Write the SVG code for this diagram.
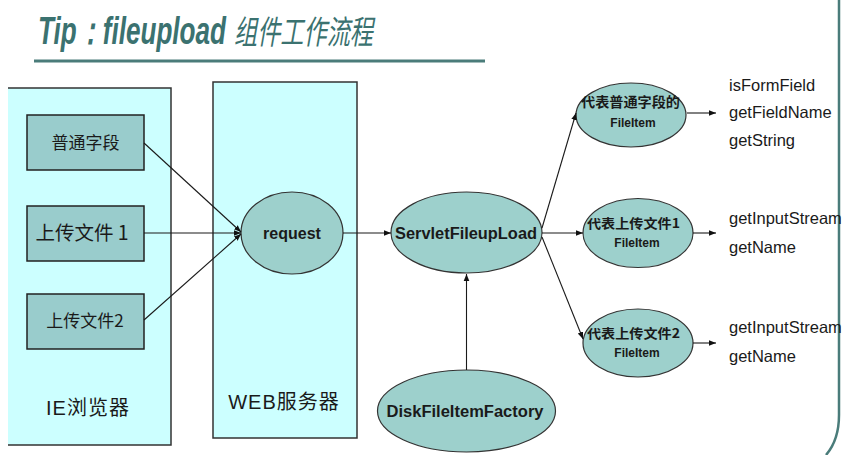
<svg xmlns="http://www.w3.org/2000/svg" width="848" height="455" viewBox="0 0 848 455">
<style>
.panel{fill:#ccffff;stroke:none}
.pborder{fill:none;stroke:#333;stroke-width:1.5}
.box{fill:#99cccc;stroke:#222;stroke-width:1.5}
.ell{fill:#9dd0cc;stroke:#333;stroke-width:1.2}
.cjk{font-family:"Noto Sans CJK SC","Liberation Sans",sans-serif;fill:#1a1a1a}
.lbl{font-family:"Liberation Sans","Noto Sans CJK SC",sans-serif;fill:#1a1a1a}
.b{font-weight:bold}
.meth{font-family:"Liberation Sans",Arial,sans-serif;font-size:16.5px;fill:#1a1a1a}
.conn{stroke:#1a1a1a;stroke-width:1.1;fill:none;marker-end:url(#arr)}
</style>
<defs>
<marker id="arr" viewBox="0 0 10 10" refX="10" refY="5" markerWidth="7" markerHeight="7" orient="auto" markerUnits="userSpaceOnUse">
<path d="M0,1 L10,5 L0,9 z" fill="#111"/>
</marker>
</defs>
<rect width="848" height="455" fill="#ffffff"/>
<g id="title">
<text y="44" fill="#3b7270" font-style="italic"><tspan x="38" font-family="Liberation Sans,Arial,sans-serif" font-size="39" font-weight="bold" textLength="188" lengthAdjust="spacingAndGlyphs">Tip：fileupload</tspan><tspan x="234" font-family="Noto Sans CJK SC,sans-serif" font-size="33" textLength="139" lengthAdjust="spacingAndGlyphs">组件工作流程</tspan></text>
<line x1="34" y1="61" x2="485" y2="61" stroke="#4a7c7a" stroke-width="3"/>
</g>
<path d="M839,0 V415 Q839,440 826,455" fill="none" stroke="#4a7c7a" stroke-width="2.5"/>
<g id="ie-browser">
<rect class="panel" x="8" y="88" width="163" height="357"/>
<path class="pborder" d="M8,88 H171 V445 H8"/>
<text class="lbl" x="88" y="415" font-size="20" text-anchor="middle" letter-spacing="1">IE浏览器</text>
</g>
<g id="web-server">
<rect class="panel" x="213" y="82" width="144" height="356"/>
<rect class="pborder" x="213" y="82" width="144" height="356"/>
<text class="lbl" x="284" y="409" font-size="20" text-anchor="middle" letter-spacing="1">WEB服务器</text>
</g>
<g id="field-box">
<rect class="box" x="27" y="115" width="117" height="55"/>
<text class="cjk" x="85.5" y="149" font-size="17" text-anchor="middle">普通字段</text>
</g>
<g id="file1-box">
<rect class="box" x="27" y="206" width="117" height="55"/>
<text class="cjk" x="82" y="240" font-size="19.5" text-anchor="middle">上传文件 1</text>
</g>
<g id="file2-box">
<rect class="box" x="27" y="294" width="117" height="55"/>
<text class="cjk" x="85" y="327" font-size="17" text-anchor="middle">上传文件2</text>
</g>
<g id="request">
<ellipse class="ell" cx="292" cy="233" rx="51" ry="41"/>
<text class="lbl b" x="292" y="239" font-size="16" text-anchor="middle">request</text>
</g>
<g id="servlet-fileupload">
<ellipse class="ell" cx="466.5" cy="232.5" rx="75.5" ry="40.5"/>
<text class="lbl b" x="466" y="238.5" font-size="16" text-anchor="middle" textLength="142" lengthAdjust="spacingAndGlyphs">ServletFileupLoad</text>
</g>
<g id="disk-factory">
<ellipse class="ell" cx="466.5" cy="411" rx="89" ry="41"/>
<text class="lbl b" x="465" y="417" font-size="16" text-anchor="middle" textLength="157" lengthAdjust="spacingAndGlyphs">DiskFileItemFactory</text>
</g>
<g id="fileitem-field">
<ellipse class="ell" cx="631" cy="115" rx="55" ry="32"/>
<text class="cjk b" x="630.5" y="107" font-size="13.5" text-anchor="middle" textLength="99" lengthAdjust="spacingAndGlyphs">代表普通字段的</text>
<text class="lbl b" x="633" y="127" font-size="12" text-anchor="middle">FileItem</text>
</g>
<g id="fileitem-file1">
<ellipse class="ell" cx="638" cy="233" rx="55" ry="34.5"/>
<text class="cjk b" x="633.5" y="228" font-size="13" text-anchor="middle" textLength="93" lengthAdjust="spacingAndGlyphs">代表上传文件1</text>
<text class="lbl b" x="637" y="247" font-size="12" text-anchor="middle">FileItem</text>
</g>
<g id="fileitem-file2">
<ellipse class="ell" cx="638" cy="343" rx="55" ry="34"/>
<text class="cjk b" x="633.5" y="338" font-size="13" text-anchor="middle" textLength="93" lengthAdjust="spacingAndGlyphs">代表上传文件2</text>
<text class="lbl b" x="637" y="357" font-size="12" text-anchor="middle">FileItem</text>
</g>
<g id="methods-field">
<text class="meth" x="729" y="91">isFormField</text>
<text class="meth" x="729" y="118">getFieldName</text>
<text class="meth" x="729" y="146">getString</text>
</g>
<g id="methods-file1">
<text class="meth" x="729" y="224">getInputStream</text>
<text class="meth" x="729" y="253">getName</text>
</g>
<g id="methods-file2">
<text class="meth" x="729" y="333">getInputStream</text>
<text class="meth" x="729" y="362">getName</text>
</g>
<g id="connectors">
<path class="conn" d="M144,143 L241,232"/>
<path class="conn" d="M144,233 L241,233"/>
<path class="conn" d="M144,320 L241,234"/>
<path class="conn" d="M343,233 L391,233"/>
<path class="conn" d="M466.5,370 L466.5,274"/>
<path class="conn" d="M542,228 L576,113"/>
<path class="conn" d="M542,233 L583,233"/>
<path class="conn" d="M542,237 L583,339"/>
<path class="conn" d="M687,113 L716,113"/>
<path class="conn" d="M693,233 L716,233"/>
<path class="conn" d="M693,343 L716,343"/>
</g>
</svg>
